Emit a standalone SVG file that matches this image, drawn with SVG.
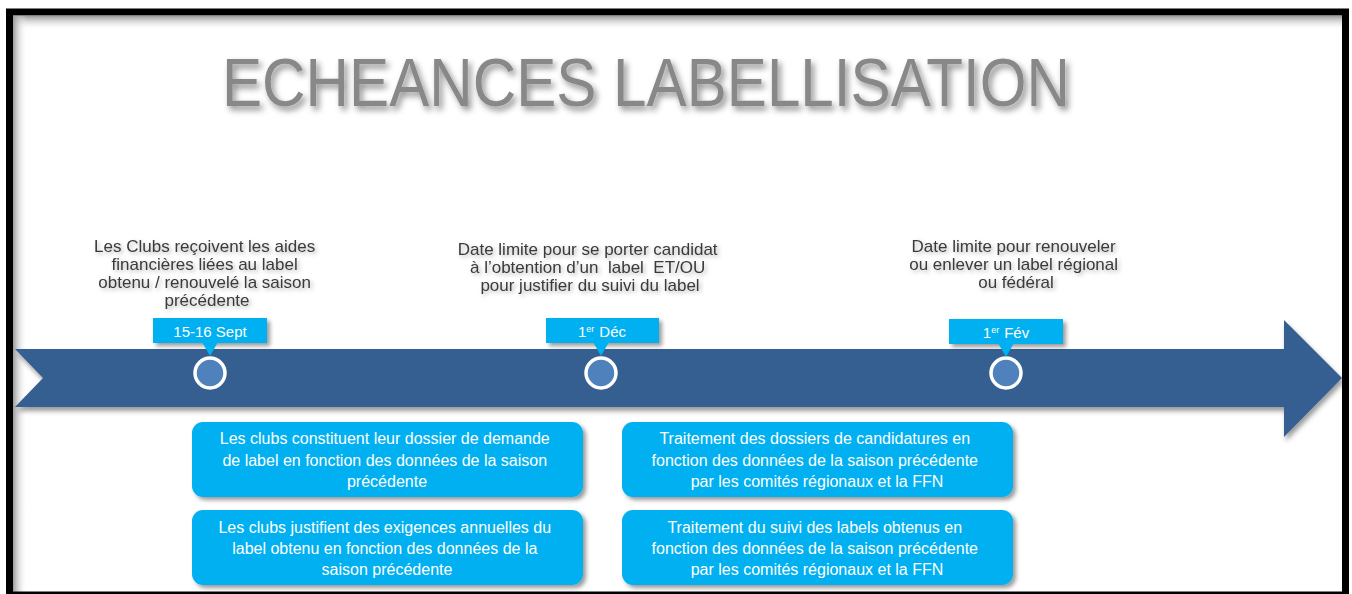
<svg xmlns="http://www.w3.org/2000/svg" width="1352" height="594" viewBox="0 0 1352 594">
<defs>
  <style>
    .title{font-family:"Liberation Sans",Arial,sans-serif;font-size:68px;fill:#888888;}
    .cap{font-family:"Liberation Sans",Arial,sans-serif;font-size:17px;fill:#3a3a3a;text-anchor:middle;}
    .date{font-family:"Liberation Sans",Arial,sans-serif;font-size:15px;fill:#ffffff;text-anchor:middle;}
    .btxt{font-family:"Liberation Sans",Arial,sans-serif;font-size:16px;fill:#ffffff;text-anchor:middle;}
    .box{fill:#00B0F0;}
    .dbox{fill:#00B0F0;}
    .ptr{fill:#00B0F0;}
    .dot{fill:#4F81BD;stroke:#ffffff;stroke-width:3.5;}
  </style>
  <filter id="tshadow" x="-5%" y="-30%" width="110%" height="160%">
    <feDropShadow dx="3" dy="4" stdDeviation="3" flood-color="#000" flood-opacity="0.45"/>
  </filter>
  <filter id="cshadow" x="-10%" y="-20%" width="120%" height="140%">
    <feDropShadow dx="2" dy="2" stdDeviation="2" flood-color="#000" flood-opacity="0.3"/>
  </filter>
  <filter id="bshadow" x="-10%" y="-20%" width="120%" height="150%">
    <feDropShadow dx="3" dy="3" stdDeviation="2" flood-color="#000" flood-opacity="0.4"/>
  </filter>
  <filter id="ashadow" x="-5%" y="-20%" width="110%" height="150%">
    <feDropShadow dx="2" dy="4" stdDeviation="2.5" flood-color="#000" flood-opacity="0.4"/>
  </filter>
  <linearGradient id="gTop" x1="0" y1="0" x2="0" y2="1">
    <stop offset="0" stop-color="#9a9a9a"/>
    <stop offset="1" stop-color="#ffffff" stop-opacity="0"/>
  </linearGradient>
  <linearGradient id="gLeft" x1="0" y1="0" x2="1" y2="0">
    <stop offset="0" stop-color="#9a9a9a"/>
    <stop offset="1" stop-color="#ffffff" stop-opacity="0"/>
  </linearGradient>
</defs>

<rect x="0" y="0" width="1352" height="594" fill="#ffffff"/>

<g id="frame">
  <rect x="13" y="16" width="1329" height="14" fill="url(#gTop)"/>
  <rect x="13" y="16" width="14" height="576" fill="url(#gLeft)"/>
  <rect x="9.5" y="12" width="1336" height="583" fill="none" stroke="#000000" stroke-width="7"/>
</g>

<g id="title">
  <text class="title" x="222" y="106" textLength="848" lengthAdjust="spacingAndGlyphs" filter="url(#tshadow)">ECHEANCES LABELLISATION</text>
</g>

<g id="timeline">
  <polygon points="15,349 1284,349 1284,320 1342,378 1284,437 1284,407 15,407 43,378" fill="#365F91" filter="url(#ashadow)"/>
</g>

<g id="milestone-sept">
  <text class="cap" filter="url(#cshadow)">
    <tspan x="207" y="252">Les Clubs reçoivent les aides</tspan>
    <tspan x="207" y="270">financières liées au label</tspan>
    <tspan x="207" y="288">obtenu / renouvelé la saison</tspan>
    <tspan x="207" y="306">précédente</tspan>
  </text>
  <rect class="dbox" x="153" y="318" width="114" height="25" filter="url(#bshadow)"/>
  <text class="date" x="210" y="337">15-16 Sept</text>
  <circle class="dot" cx="210" cy="373" r="15"/>
</g>

<g id="milestone-dec">
  <text class="cap" filter="url(#cshadow)">
    <tspan x="590" y="255">Date limite pour se porter candidat</tspan>
    <tspan x="590" y="273">à l’obtention d’un&#160; label&#160; ET/OU</tspan>
    <tspan x="590" y="291">pour justifier du suivi du label</tspan>
  </text>
  <rect class="dbox" x="546" y="318" width="113" height="25" filter="url(#bshadow)"/>
  <text class="date" x="602" y="337">1<tspan font-size="9" dy="-5">er</tspan><tspan dx="5" dy="5">Déc</tspan></text>
  <circle class="dot" cx="601" cy="373" r="15"/>
</g>

<g id="milestone-fev">
  <text class="cap" filter="url(#cshadow)">
    <tspan x="1016" y="252">Date limite pour renouveler</tspan>
    <tspan x="1016" y="270">ou enlever un label régional</tspan>
    <tspan x="1016" y="288">ou fédéral</tspan>
  </text>
  <rect class="dbox" x="949" y="319" width="114" height="25" filter="url(#bshadow)"/>
  <text class="date" x="1006" y="338">1<tspan font-size="9" dy="-5">er</tspan><tspan dx="5" dy="5">Fév</tspan></text>
  <circle class="dot" cx="1006" cy="373" r="15"/>
</g>

<g id="connectors">
  <polygon class="ptr" points="202,342 218,342 210,356"/>
  <polygon class="ptr" points="593,342 609,342 601,356"/>
  <polygon class="ptr" points="998,343 1014,343 1006,357"/>
</g>

<g id="box-dossier">
  <rect class="box" x="192" y="422" width="391" height="75" rx="11" filter="url(#bshadow)"/>
  <text class="btxt">
    <tspan x="387" y="444">Les clubs constituent leur dossier de demande</tspan>
    <tspan x="387" y="466">de label en fonction des données de la saison</tspan>
    <tspan x="387" y="487">précédente</tspan>
  </text>
</g>

<g id="box-justifient">
  <rect class="box" x="192" y="510" width="391" height="75" rx="11" filter="url(#bshadow)"/>
  <text class="btxt">
    <tspan x="387" y="533">Les clubs justifient des exigences annuelles du</tspan>
    <tspan x="387" y="554">label obtenu en fonction des données de la</tspan>
    <tspan x="387" y="575">saison précédente</tspan>
  </text>
</g>

<g id="box-traitement-dossiers">
  <rect class="box" x="622" y="422" width="391" height="75" rx="11" filter="url(#bshadow)"/>
  <text class="btxt">
    <tspan x="817" y="444">Traitement des dossiers de candidatures en</tspan>
    <tspan x="817" y="466">fonction des données de la saison précédente</tspan>
    <tspan x="817" y="487">par les comités régionaux et la FFN</tspan>
  </text>
</g>

<g id="box-traitement-suivi">
  <rect class="box" x="622" y="510" width="391" height="75" rx="11" filter="url(#bshadow)"/>
  <text class="btxt">
    <tspan x="817" y="533">Traitement du suivi des labels obtenus en</tspan>
    <tspan x="817" y="554">fonction des données de la saison précédente</tspan>
    <tspan x="817" y="575">par les comités régionaux et la FFN</tspan>
  </text>
</g>
</svg>
